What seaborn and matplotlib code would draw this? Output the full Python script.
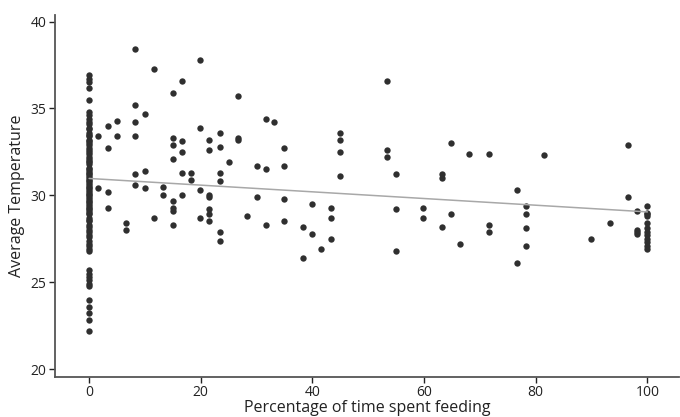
import matplotlib
matplotlib.use("Agg")
import matplotlib.pyplot as plt
import pandas as pd
import seaborn as sns

# Points at 0% feeding (the dense column on the left)
temp_at_zero = [36.9, 36.7, 36.5, 36.2, 35.5, 34.8, 34.6, 34.4, 34.2, 34.1, 33.9, 33.8,
                33.6, 33.5, 33.4, 33.2, 33.1, 33.0, 32.9, 32.7, 32.6, 32.5, 32.4, 32.2,
                32.1, 32.0, 31.9, 31.8, 31.6, 31.5, 31.4, 31.3, 31.2, 31.1, 31.0, 30.9,
                30.8, 30.7, 30.6, 30.5, 30.4, 30.3, 30.2, 30.1, 30.0, 29.9, 29.8, 29.7,
                29.6, 29.5, 29.4, 29.3, 29.2, 29.1, 29.0, 28.9, 28.7, 28.6, 28.5, 28.3,
                28.2, 28.0, 27.9, 27.7, 27.6, 27.4, 27.2, 27.1, 26.9, 26.8,
                25.7, 25.5, 25.3, 25.1, 24.9, 24.8, 24.0, 23.6, 23.2, 22.8, 22.2]

# Points at 100% feeding (column on the right)
temp_at_hundred = [29.4, 29.0, 28.9, 28.8, 28.4, 28.1, 27.9, 27.7, 27.5, 27.3, 27.1, 26.9]

# Everything in between
feeding_mid = [8.3, 11.6, 16.6, 19.9, 15.0, 26.6, 8.3, 10.0, 3.3, 5.0, 8.3, 1.6, 5.0, 8.3,
               3.3, 15.0, 15.0, 16.6, 16.6, 15.0, 19.9, 21.5, 23.4, 21.5, 23.4, 26.6, 26.6,
               25.0, 30.0, 8.3, 10.0, 16.6, 18.3, 18.3, 23.4, 23.4, 1.6, 3.3, 3.3, 8.3,
               10.0, 13.3, 13.3, 15.0, 15.0, 15.0, 15.0, 16.6, 11.6, 6.6, 6.6, 19.9, 19.9,
               21.5, 21.5, 21.5, 21.5, 21.5, 23.4, 23.4, 28.3, 30.0,
               53.3, 31.6, 33.2, 34.9, 31.6, 34.9, 45.0, 45.0, 45.0, 45.0, 53.3, 53.3, 54.9,
               64.8, 68.1, 63.2, 63.2, 31.6, 34.9, 34.9, 38.4, 38.4, 40.0, 40.0, 41.6, 43.3,
               43.3, 43.3, 54.9, 54.9, 59.8, 59.8, 63.2, 64.8, 66.5,
               71.6, 81.5, 96.5, 76.6, 78.2, 78.2, 78.2, 78.2, 76.6, 71.6, 71.6, 89.9, 93.3,
               96.5, 98.2, 98.2, 98.2, 98.2]
temp_mid = [38.4, 37.3, 36.6, 37.8, 35.9, 35.7, 35.2, 34.7, 34.0, 34.3, 34.2, 33.4, 33.4, 33.4,
            32.7, 33.3, 32.9, 33.1, 32.5, 32.1, 33.9, 33.2, 33.6, 32.6, 32.8, 33.3, 33.2,
            31.9, 31.7, 31.2, 31.4, 31.3, 31.3, 30.9, 31.3, 30.8, 30.4, 30.2, 29.3, 30.6,
            30.4, 30.5, 30.0, 29.7, 29.3, 29.1, 28.3, 30.0, 28.7, 28.4, 28.0, 30.3, 28.7,
            30.0, 29.9, 29.2, 28.9, 28.5, 27.9, 27.4, 28.8, 29.9,
            36.6, 34.4, 34.2, 32.7, 31.5, 31.7, 33.6, 33.2, 32.5, 31.1, 32.6, 32.2, 31.2,
            33.0, 32.4, 31.2, 31.0, 28.3, 29.8, 28.5, 28.2, 26.4, 29.5, 27.8, 26.9, 29.3,
            28.7, 27.5, 29.2, 26.8, 29.3, 28.7, 28.2, 28.9, 27.2,
            32.4, 32.3, 32.9, 30.3, 29.4, 28.9, 28.1, 27.1, 26.1, 28.3, 27.9, 27.5, 28.4,
            29.9, 29.1, 28.0, 27.9, 27.8]

df = pd.DataFrame({
    'feeding': [0.0] * len(temp_at_zero) + feeding_mid + [100.0] * len(temp_at_hundred),
    'temp': temp_at_zero + temp_mid + temp_at_hundred,
})

sns.set_style('ticks')
plt.rcParams['font.family'] = ['Open Sans', 'DejaVu Sans']

fig, ax = plt.subplots(figsize=(6.8, 4.17), dpi=100)
fig.subplots_adjust(left=0.081, right=0.998, bottom=0.097, top=0.964)

sns.regplot(data=df, x='feeding', y='temp', ax=ax, ci=None,
            scatter_kws={'s': 21, 'color': '#2f2f2f', 'linewidths': 0, 'alpha': 1},
            line_kws={'color': '#a8a8a8', 'linewidth': 1.1})

ax.set_xlim(-6.1, 105.6)
ax.set_ylim(19.57, 40.38)
ax.set_xticks([0, 20, 40, 60, 80, 100])
ax.set_yticks([20, 25, 30, 35, 40])
ax.set_xlabel('Percentage of time spent feeding', fontsize=11.5, color='#222222', labelpad=0)
ax.set_ylabel('Average Temperature', fontsize=11.5, color='#222222', labelpad=4)
ax.tick_params(labelsize=10, colors='#222222', length=4, width=1, pad=2)
for s in ['left', 'bottom']:
    ax.spines[s].set_color('#555555')
    ax.spines[s].set_linewidth(1.3)
sns.despine(ax=ax)

fig.savefig('out.png', dpi=100)
